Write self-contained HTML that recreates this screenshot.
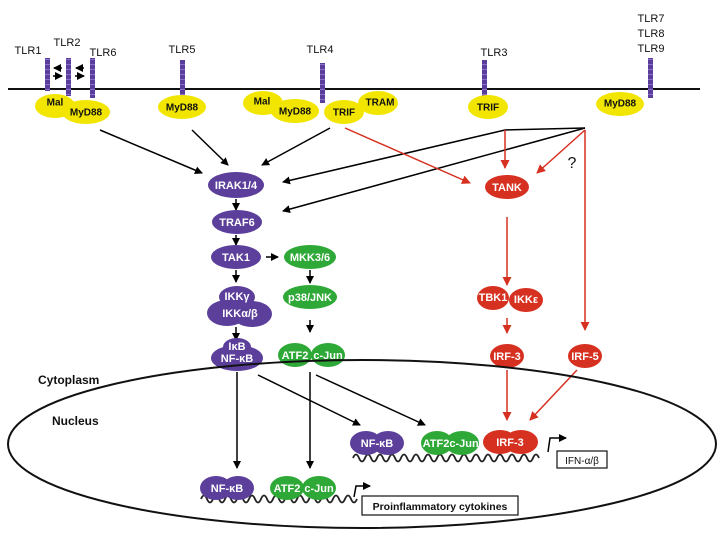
<!DOCTYPE html>
<html><head><meta charset="utf-8"><style>
body{margin:0;background:#fff}
svg{display:block;font-family:"Liberation Sans",Arial,sans-serif}
.n{font-weight:bold;font-size:11px;fill:#fff;text-anchor:middle;dominant-baseline:central}
.y{font-weight:bold;font-size:10px;fill:#111;text-anchor:middle;dominant-baseline:central}
.l{font-size:11px;fill:#111;text-anchor:middle}
</style></head><body>
<svg width="720" height="540" viewBox="0 0 720 540">
<defs>
<marker id="ab" markerWidth="8" markerHeight="8" refX="7" refY="4" orient="auto" markerUnits="userSpaceOnUse"><path d="M0,0L8,4L0,8z" fill="#000"/></marker>
<marker id="ar" markerWidth="9" markerHeight="9" refX="8" refY="4.5" orient="auto" markerUnits="userSpaceOnUse"><path d="M0,0L9,4.5L0,9z" fill="#d63020"/></marker>
<pattern id="rec" width="4" height="5" patternUnits="userSpaceOnUse"><rect width="4" height="5" fill="#5a3e9c"/><rect y="4" width="4" height="1" fill="#8a70c8"/></pattern>
</defs>
<line x1="8" y1="89" x2="700" y2="89" stroke="#111" stroke-width="2"/>
<g fill="url(#rec)">
<rect x="45" y="58" width="5" height="33"/><rect x="66" y="58" width="5" height="38"/><rect x="90" y="58" width="5" height="40"/>
<rect x="180" y="60" width="5" height="37"/><rect x="320" y="63" width="5" height="40"/><rect x="482" y="60" width="5" height="40"/><rect x="648" y="58" width="5" height="40"/>
</g>
<text x="28" y="54" class="l">TLR1</text><text x="67" y="46" class="l">TLR2</text><text x="103" y="56" class="l">TLR6</text>
<text x="182" y="53" class="l">TLR5</text><text x="320" y="53" class="l">TLR4</text><text x="494" y="56" class="l">TLR3</text>
<text x="651" y="22" class="l">TLR7</text><text x="651" y="37" class="l">TLR8</text><text x="651" y="52" class="l">TLR9</text>
<g stroke="#000" stroke-width="1.5" marker-end="url(#ab)">
<line x1="62" y1="68" x2="54" y2="68"/><line x1="53" y1="76" x2="62" y2="76"/>
<line x1="84" y1="68" x2="76" y2="68"/><line x1="75" y1="76" x2="84" y2="76"/>
</g>
<g fill="#f2e600">
<ellipse cx="55" cy="106" rx="20" ry="12"/><ellipse cx="86" cy="112" rx="24" ry="12"/>
<ellipse cx="182" cy="107" rx="24" ry="12"/>
<ellipse cx="263" cy="103" rx="20" ry="12"/><ellipse cx="295" cy="111" rx="24" ry="12"/>
<ellipse cx="344" cy="112" rx="20" ry="12"/><ellipse cx="378" cy="103" rx="20" ry="12"/>
<ellipse cx="488" cy="107" rx="20" ry="12"/><ellipse cx="620" cy="104" rx="24" ry="12"/>
</g>
<text x="55" y="103" class="y">Mal</text><text x="86" y="113" class="y">MyD88</text><text x="182" y="108" class="y">MyD88</text>
<text x="262" y="102" class="y">Mal</text><text x="295" y="112" class="y">MyD88</text><text x="344" y="113" class="y">TRIF</text>
<text x="380" y="103" class="y">TRAM</text><text x="488" y="108" class="y">TRIF</text><text x="620" y="104" class="y">MyD88</text>
<g stroke="#000" stroke-width="1.5" fill="none" marker-end="url(#ab)">
<line x1="100" y1="130" x2="202" y2="173"/>
<line x1="192" y1="130" x2="228" y2="165"/>
<line x1="330" y1="128" x2="262" y2="165"/>
<polyline points="505,130 283,182"/>
<polyline points="585,128 283,211"/>
<line x1="236" y1="199" x2="236" y2="210"/>
<line x1="236" y1="235" x2="236" y2="245"/>
<line x1="266" y1="257" x2="278" y2="257"/>
<line x1="236" y1="270" x2="236" y2="282"/>
<line x1="310" y1="270" x2="310" y2="283"/>
<line x1="236" y1="327" x2="236" y2="340"/>
<line x1="310" y1="320" x2="310" y2="332"/>
<line x1="237" y1="372" x2="237" y2="468"/>
<line x1="310" y1="372" x2="310" y2="468"/>
<polyline points="258,375 360,425"/>
<polyline points="316,375 425,425"/>
</g>
<line x1="505" y1="130" x2="585" y2="128" stroke="#000" stroke-width="1.5"/>
<g stroke="#d63020" stroke-width="1.5" fill="none" marker-end="url(#ar)">
<line x1="345" y1="128" x2="470" y2="183"/>
<line x1="505" y1="130" x2="505" y2="168"/>
<line x1="585" y1="130" x2="537" y2="173"/>
<line x1="585" y1="130" x2="585" y2="330"/>
<line x1="507" y1="217" x2="507" y2="285"/>
<line x1="507" y1="318" x2="507" y2="333"/>
<line x1="507" y1="370" x2="507" y2="420"/>
<line x1="577" y1="370" x2="530" y2="420"/>
</g>
<text x="572" y="168" font-size="16" fill="#111" text-anchor="middle">?</text>
<g fill="#5b3f9b">
<ellipse cx="236" cy="185" rx="28" ry="13"/><ellipse cx="237" cy="222" rx="25" ry="12"/><ellipse cx="236" cy="257" rx="25" ry="12"/>
<ellipse cx="237" cy="297" rx="18" ry="11"/><ellipse cx="227" cy="313" rx="20" ry="13"/><ellipse cx="252" cy="314" rx="20" ry="13"/>
<ellipse cx="237" cy="347" rx="14" ry="9"/><ellipse cx="237" cy="358" rx="26" ry="13"/>
</g>
<text x="236" y="186" class="n">IRAK1/4</text><text x="237" y="223" class="n">TRAF6</text><text x="236" y="258" class="n">TAK1</text>
<text x="237" y="297" class="n">IKKγ</text><text x="240" y="314" class="n">IKKα/β</text><text x="237" y="347" class="n" font-size="10">IκB</text><text x="237" y="359" class="n">NF-κB</text>
<g fill="#2ea836">
<ellipse cx="310" cy="257" rx="26" ry="12"/><ellipse cx="310" cy="297" rx="27" ry="12"/>
<ellipse cx="295" cy="355" rx="17" ry="12"/><ellipse cx="328" cy="355" rx="17" ry="12"/>
</g>
<text x="310" y="258" class="n">MKK3/6</text><text x="310" y="298" class="n">p38/JNK</text><text x="295" y="356" class="n" font-size="10">ATF2</text><text x="328" y="356" class="n" font-size="10">c-Jun</text>
<g fill="#d63020">
<ellipse cx="507" cy="187" rx="22" ry="12"/><ellipse cx="493" cy="298" rx="16" ry="12"/><ellipse cx="526" cy="300" rx="17" ry="12"/>
<ellipse cx="507" cy="356" rx="17" ry="12"/><ellipse cx="585" cy="356" rx="17" ry="12"/>
</g>
<text x="507" y="188" class="n">TANK</text><text x="493" y="298" class="n" font-size="10">TBK1</text><text x="526" y="300" class="n" font-size="10">IKKε</text>
<text x="507" y="357" class="n" font-size="10">IRF-3</text><text x="585" y="357" class="n" font-size="10">IRF-5</text>
<ellipse cx="362" cy="444" rx="354" ry="84" fill="none" stroke="#111" stroke-width="2"/>
<text x="38" y="384" font-size="12" font-weight="bold" fill="#111">Cytoplasm</text>
<text x="52" y="425" font-size="12" font-weight="bold" fill="#111">Nucleus</text>
<path d="M353,458 q3,-7 6,0 q3,7 6,0 q3,-7 6,0 q3,7 6,0 q3,-7 6,0 q3,7 6,0 q3,-7 6,0 q3,7 6,0 q3,-7 6,0 q3,7 6,0 q3,-7 6,0 q3,7 6,0 q3,-7 6,0 q3,7 6,0 q3,-7 6,0 q3,7 6,0 q3,-7 6,0 q3,7 6,0 q3,-7 6,0 q3,7 6,0 q3,-7 6,0 q3,7 6,0 q3,-7 6,0 q3,7 6,0 q3,-7 6,0 q3,7 6,0 q3,-7 6,0 q3,7 6,0 q3,-7 6,0 q3,7 6,0 q3,-7 6,0" fill="none" stroke="#222" stroke-width="1.8"/>
<path d="M201,499 q3,-7 6,0 q3,7 6,0 q3,-7 6,0 q3,7 6,0 q3,-7 6,0 q3,7 6,0 q3,-7 6,0 q3,7 6,0 q3,-7 6,0 q3,7 6,0 q3,-7 6,0 q3,7 6,0 q3,-7 6,0 q3,7 6,0 q3,-7 6,0 q3,7 6,0 q3,-7 6,0 q3,7 6,0 q3,-7 6,0 q3,7 6,0 q3,-7 6,0 q3,7 6,0 q3,-7 6,0 q3,7 6,0 q3,-7 6,0 q3,7 6,0" fill="none" stroke="#222" stroke-width="1.8"/>
<g fill="#5b3f9b"><ellipse cx="366" cy="443" rx="16" ry="12"/><ellipse cx="388" cy="443" rx="16" ry="12"/>
<ellipse cx="216" cy="488" rx="16" ry="12"/><ellipse cx="238" cy="488" rx="16" ry="12"/></g>
<g fill="#2ea836"><ellipse cx="437" cy="443" rx="16" ry="12"/><ellipse cx="462" cy="443" rx="17" ry="12"/>
<ellipse cx="287" cy="488" rx="17" ry="12"/><ellipse cx="319" cy="488" rx="17" ry="12"/></g>
<g fill="#d63020"><ellipse cx="500" cy="442" rx="17" ry="12"/><ellipse cx="521" cy="442" rx="17" ry="12"/></g>
<text x="377" y="444" class="n" font-size="10">NF-κB</text><text x="227" y="489" class="n" font-size="10">NF-κB</text>
<text x="436" y="444" class="n" font-size="10">ATF2</text><text x="464" y="444" class="n" font-size="10">c-Jun</text>
<text x="287" y="489" class="n" font-size="10">ATF2</text><text x="319" y="489" class="n" font-size="10">c-Jun</text>
<text x="510" y="443" class="n" font-size="10">IRF-3</text>
<g stroke="#000" stroke-width="1.5" fill="none">
<polyline points="354,497 356,486 370,486" marker-end="url(#ab)"/>
<polyline points="548,452 550,438 566,438" marker-end="url(#ab)"/>
</g>
<rect x="362" y="496" width="156" height="19" fill="#fff" stroke="#111" stroke-width="1.2"/>
<text x="440" y="510" font-size="10.5" font-weight="bold" fill="#111" text-anchor="middle">Proinflammatory cytokines</text>
<rect x="557" y="451" width="50" height="17" fill="#fff" stroke="#111" stroke-width="1.2"/>
<text x="582" y="464" font-size="10" fill="#111" text-anchor="middle">IFN-α/β</text>
</svg>
</body></html>
